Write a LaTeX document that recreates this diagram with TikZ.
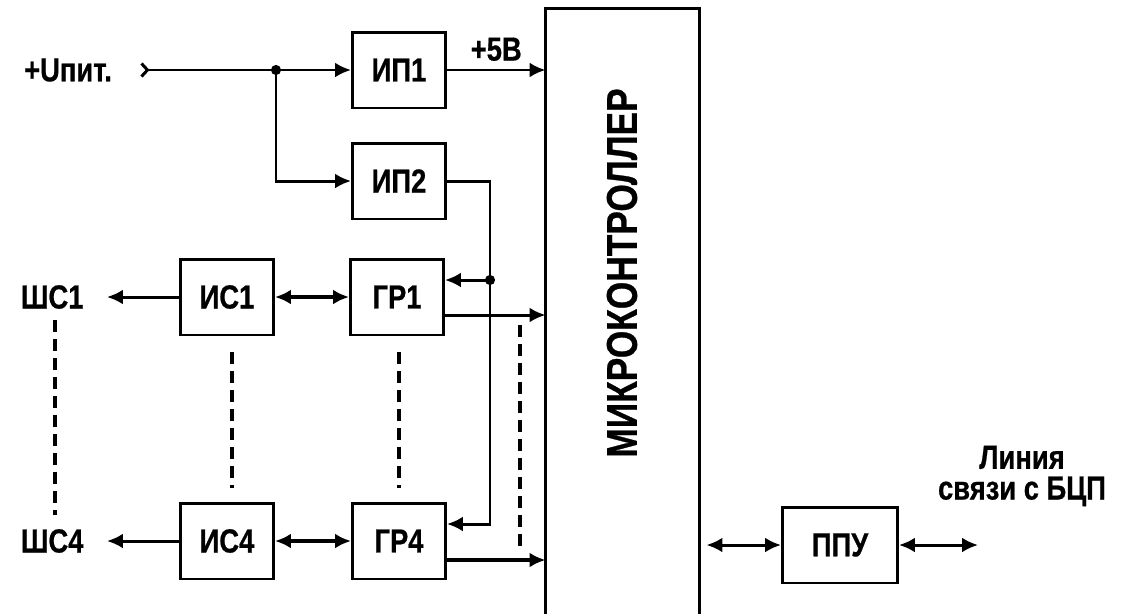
\documentclass[tikz,border=0pt]{standalone}
\usepackage{fontspec}
\setmainfont{Liberation Sans}[FakeStretch=0.82,FakeBold=0.6]
\usetikzlibrary{arrows.meta,calc}

\begin{document}
\begin{tikzpicture}[x=0.02cm,y=-0.02cm,line width=1.7pt,
  every node/.style={font=\bfseries\fontsize{19}{22}\selectfont},
  blk/.style={draw,line width=1.7pt,minimum width=1.86cm,minimum height=1.52cm,inner sep=0pt},
  >={Latex[length=3.2mm,width=3mm]},
  bold/.style={line width=2.5pt},
  dsh/.style={line width=1.8pt,dash pattern=on 0.24cm off 0.14cm}]
\useasboundingbox (0,0) rectangle (1123,613);

% power supplies
\node[blk] (ip1) at (399,70) {ИП1};
\node[blk] (ip2) at (399,181) {ИП2};
\node (uin) at (68,70) {+Uпит.};
\coordinate (uend) at (140,70);
\coordinate (j1) at (276,70);

% microcontroller
\node[minimum width=3.02cm,minimum height=12.06cm] (mc) at (622.5,311.5) {};
\draw (mc.south west) -- (mc.north west) -- (mc.north east) -- (mc.south east);
\node[rotate=90,font=\bfseries\fontsize{24.5}{28}\selectfont] (mctxt) at (622,273) {МИКРОКОНТРОЛЛЕР};

% channels
\node[blk] (is1) at (227,297) {ИС1};
\node[blk] (gr1) at (397,297) {ГР1};
\node[blk] (is4) at (227,541) {ИС4};
\node[blk] (gr4) at (399,541) {ГР4};
\node[anchor=east,inner xsep=0.44cm] (sc1) at (107,297) {ШС1};
\node[anchor=east,inner xsep=0.44cm] (sc4) at (107,541) {ШС4};

% line interface
\node[blk,minimum width=2.3cm] (ppu) at (840,545) {ППУ};
\coordinate (bcp) at (978,545);
\node[align=center,font=\bfseries\fontsize{19}{17.5}\selectfont] (lnk) at (1022,476) {Линия\\связи с БЦП};

% supply lines
\draw[{Straight Barb[reversed,length=1.2mm,width=2.6mm]}->] (uend) -- (ip1);
\fill (j1) circle (2.9pt);
\draw[->] (j1) |- (ip2);
\draw[->] (ip1) -- (ip1 -| mc.west) node[midway,above=1pt] {+5В};
\coordinate (j2) at (490,280);
\coordinate (k4) at (490,524);
\draw[->] (ip2) -| (k4) -- (k4 -| gr4.east);
\draw[->] (j2) -- (j2 -| gr1.east);
\fill (j2) circle (2.9pt);

% signal lines
\draw[->] (is1) -- (sc1);
\draw[->] (is4) -- (sc4);
\draw[<->,bold] (is1) -- (gr1);
\draw[<->,bold] (is4) -- (gr4);
\coordinate (g1out) at ($(gr1.east)+(0,18)$);
\coordinate (g4out) at ($(gr4.east)+(0,19)$);
\draw[->] (g1out) -- (g1out -| mc.west);
\draw[->,bold] (g4out) -- (g4out -| mc.west);
\draw[<->,shorten <=0.14cm] (mc.east |- ppu) -- (ppu);
\draw[<->] (ppu) -- (bcp);

% omitted channels
\draw[dsh] (55,320) -- (55,515);
\draw[dsh] (232,352) -- (232,488);
\draw[dsh] (399,352) -- (399,488);
\draw[dsh] (520,325) -- (520,552);
\end{tikzpicture}
\end{document}
